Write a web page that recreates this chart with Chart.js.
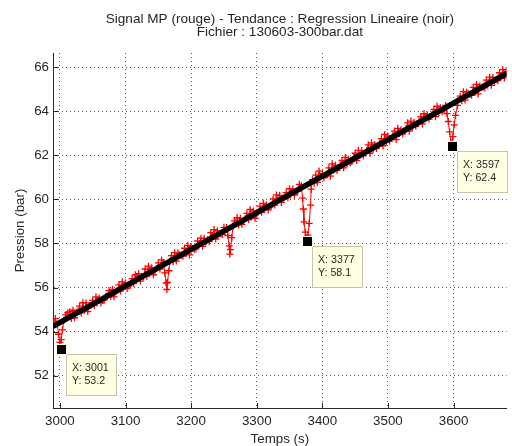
<!DOCTYPE html>
<html><head><meta charset="utf-8">
<script src="https://cdn.jsdelivr.net/npm/chart.js@4.4.1/dist/chart.umd.min.js"></script>
<style>html,body{margin:0;padding:0;background:#fff;overflow:hidden}</style>
</head><body>
<canvas id="c" width="512" height="446" style="display:block;width:512px;height:446px"></canvas>
<script>
const titleLines = ['Signal MP (rouge) - Tendance : Regression Lineaire (noir)', 'Fichier : 130603-300bar.dat'];
const xLabel = 'Temps (s)';
const yLabel = 'Pression (bar)';
const xTickValues = [3000, 3100, 3200, 3300, 3400, 3500, 3600];
const yTickValues = [52, 54, 56, 58, 60, 62, 64, 66];

// main samples of the red signal
const times = [
  2990,2993,2996,2998,3000,3001,3002,3004,3006,3009,
  3012,3015,3020,3025,3030,3035,3040,3045,3050,3055,
  3060,3065,3070,3075,3080,3085,3090,3095,3100,3105,
  3110,3115,3120,3125,3130,3135,3140,3145,3150,3155,
  3158,3160,3162,3163,3164,3166,3168,3170,3175,3180,
  3185,3190,3195,3200,3205,3210,3215,3220,3225,3230,
  3235,3240,3245,3250,3254,3256,3258,3259,3260,3262,
  3264,3266,3270,3275,3280,3285,3290,3295,3300,3305,
  3310,3315,3320,3325,3330,3335,3340,3345,3350,3355,
  3360,3365,3368,3370,3371,3372,3374,3376,3377,3378,
  3380,3382,3383,3385,3390,3395,3400,3405,3410,3415,
  3420,3425,3430,3435,3440,3445,3450,3455,3460,3465,
  3470,3475,3480,3485,3490,3495,3500,3505,3510,3515,
  3520,3525,3530,3535,3540,3545,3550,3555,3560,3565,
  3570,3575,3580,3585,3588,3590,3592,3594,3596,3597,
  3599,3601,3603,3606,3610,3615,3620,3625,3630,3635,
  3640,3645,3650,3655,3660,3665,3670,3675,3680
];
const pressure = [
  54.39,54.59,54.34,53.88,53.51,53.20,53.64,54.08,54.51,54.76,
  54.86,54.90,54.97,54.88,55.16,55.31,55.30,55.18,55.42,55.58,
  55.52,55.41,55.60,55.86,55.92,55.80,56.12,56.26,56.20,56.08,
  56.40,56.58,56.63,56.50,56.84,56.97,56.90,56.78,57.12,57.25,
  57.13,56.66,56.20,55.91,56.23,56.76,57.20,57.45,57.58,57.56,
  57.46,57.78,57.91,57.86,57.74,58.11,58.24,58.23,58.17,58.49,
  58.63,58.57,58.45,58.73,58.72,58.36,57.89,57.51,57.72,58.26,
  58.79,59.02,59.17,59.14,59.03,59.36,59.54,59.47,59.36,59.69,
  59.82,59.75,59.65,60.02,60.20,60.18,60.03,60.30,60.48,60.47,
  60.36,60.68,60.61,60.05,59.56,58.98,58.51,58.24,58.10,58.38,
  58.91,59.74,60.46,60.89,61.10,61.28,61.16,61.10,61.43,61.61,
  61.54,61.43,61.76,61.90,61.82,61.72,62.09,62.22,62.21,62.10,
  62.47,62.56,62.49,62.43,62.75,62.94,62.87,62.76,63.09,63.22,
  63.15,63.10,63.47,63.55,63.48,63.43,63.75,63.88,63.82,63.76,
  64.08,64.22,64.15,64.09,64.26,63.89,63.53,63.06,62.59,62.40,
  62.84,63.38,63.81,64.26,64.68,64.88,64.86,64.76,65.08,65.21,
  65.14,65.09,65.41,65.54,65.53,65.42,65.74,65.88,65.81
];
// intermediate samples of the red signal
const timesMid = [
  3017.5,3022.5,3027.5,3032.5,3037.5,3042.5,3047.5,3052.5,3057.5,3062.5,
  3067.5,3072.5,3077.5,3082.5,3087.5,3092.5,3097.5,3102.5,3107.5,3112.5,
  3117.5,3122.5,3127.5,3132.5,3137.5,3142.5,3147.5,3152.5,
  3172.5,3177.5,3182.5,3187.5,3192.5,3197.5,3202.5,3207.5,3212.5,3217.5,
  3222.5,3227.5,3232.5,3237.5,3242.5,3247.5,
  3272.5,3277.5,3282.5,3287.5,3292.5,3297.5,3302.5,3307.5,3312.5,3317.5,
  3322.5,3327.5,3332.5,3337.5,3342.5,3347.5,3352.5,3357.5,3362.5,
  3387.5,3392.5,3397.5,3402.5,3407.5,3412.5,3417.5,3422.5,3427.5,3432.5,
  3437.5,3442.5,3447.5,3452.5,3457.5,3462.5,3467.5,3472.5,3477.5,3482.5,
  3487.5,3492.5,3497.5,3502.5,3507.5,3512.5,3517.5,3522.5,3527.5,3532.5,
  3537.5,3542.5,3547.5,3552.5,3557.5,3562.5,3567.5,3572.5,3577.5,3582.5,
  3612.5,3617.5,3622.5,3627.5,3632.5,3637.5,3642.5,3647.5,3652.5,3657.5,
  3662.5,3667.5,3672.5,3677.5
];
const pressureMid = [
  54.60,54.63,54.92,54.85,54.98,54.91,55.20,55.18,55.41,55.30,
  55.43,55.61,55.60,55.58,55.86,55.84,56.08,55.96,56.14,56.18,
  56.41,56.29,56.48,56.51,56.74,56.58,56.86,56.84,
  57.17,57.20,57.49,57.42,57.55,57.48,57.77,57.75,57.98,57.87,
  58.05,58.08,58.32,58.20,58.43,58.41,
  58.83,58.86,59.14,59.08,59.21,59.14,59.43,59.41,59.64,59.52,
  59.71,59.74,59.97,59.86,60.09,60.07,60.31,60.19,60.37,
  60.73,60.77,61.05,60.98,61.11,61.05,61.33,61.31,61.55,61.43,
  61.61,61.65,61.88,61.76,62.00,61.98,62.21,62.09,62.28,62.31,
  62.54,62.43,62.61,62.64,62.88,62.71,62.99,62.97,63.21,63.09,
  63.27,63.31,63.54,63.42,63.66,63.64,63.87,63.75,63.94,63.97,
  64.47,64.50,64.79,64.72,64.85,64.78,65.07,65.05,65.28,65.17,
  65.35,65.38,65.62,65.50
];
const trendTimes = [2989.5, 3681];
const trendValues = [54.24, 65.71];
const tipX = [3001, 3377, 3597];
const tipY = [53.2, 58.1, 62.4];

const FONT = "'Liberation Sans', Arial, Helvetica, sans-serif";
const TXT = '#262626';

const signalPoints = times.map((t, i) => ({x: t, y: pressure[i]}))
  .concat(timesMid.map((t, i) => ({x: t, y: pressureMid[i]})))
  .sort((a, b) => a.x - b.x);

const overlay = {
  id: 'overlay',
  afterDraw(chart) {
    const {ctx, chartArea: a, scales: {x, y}} = chart;
    ctx.save();
    ctx.strokeStyle = '#262626'; ctx.lineWidth = 1; ctx.setLineDash([]);
    ctx.beginPath();
    x.ticks.forEach(t => { const px = Math.round(x.getPixelForValue(t.value)) + 0.5; ctx.moveTo(px, a.bottom); ctx.lineTo(px, a.bottom - 5); });
    y.ticks.forEach(t => { const py = Math.round(y.getPixelForValue(t.value)) + 0.5; ctx.moveTo(a.left, py); ctx.lineTo(a.left + 5, py); });
    ctx.stroke();
    tipX.forEach((tx, i) => {
      const px = Math.round(x.getPixelForValue(tx)), py = Math.round(y.getPixelForValue(tipY[i]));
      ctx.fillStyle = '#ffffe1'; ctx.fillRect(px + 5, py + 5, 51, 42);
      ctx.strokeStyle = '#c4c4a8'; ctx.strokeRect(px + 5.5, py + 5.5, 50, 41);
      ctx.fillStyle = '#ffffe1'; ctx.fillRect(px - 5, py - 5, 11, 11);
      ctx.fillStyle = '#000'; ctx.fillRect(px - 4, py - 4, 9, 9);
      ctx.fillStyle = TXT; ctx.font = '10.67px ' + FONT; ctx.textBaseline = 'middle'; ctx.textAlign = 'left';
      ctx.fillText('X: ' + tx, px + 11, py + 19);
      ctx.fillText('Y: ' + tipY[i].toFixed(1), px + 11, py + 32);
    });
    ctx.restore();
  }
};

new Chart(document.getElementById('c'), {
  type: 'line',
  data: {
    datasets: [
      {
        label: 'Regression',
        data: trendTimes.map((t, i) => ({x: t, y: trendValues[i]})),
        borderColor: '#000', backgroundColor: '#000', borderWidth: 5.5,
        pointRadius: 0, tension: 0, order: 0
      },
      {
        label: 'Signal MP',
        data: signalPoints,
        borderColor: '#ff0000', backgroundColor: '#ff0000', borderWidth: 1,
        pointStyle: 'cross', pointRadius: 3.5, pointBorderWidth: 1.3,
        pointBorderColor: '#ff0000', tension: 0, order: 1
      }
    ]
  },
  options: {
    responsive: false, animation: false, devicePixelRatio: 1,
    layout: {padding: 0},
    plugins: {
      legend: {display: false},
      tooltip: {enabled: false},
      title: {
        display: true, fullSize: false, position: 'top', align: 'center',
        text: titleLines, color: TXT,
        font: {family: FONT, size: 13.6, weight: 'normal', lineHeight: 0.95},
        padding: {top: 13, bottom: 14.2}
      }
    },
    scales: {
      x: {
        type: 'linear', min: 2989.5, max: 3681,
        afterBuildTicks: s => { s.ticks = xTickValues.map(v => ({value: v})); },
        afterFit: s => { s.height = 38; },
        ticks: {color: TXT, font: {family: FONT, size: 13.33}, padding: 5, maxRotation: 0, autoSkip: false, callback: v => String(v)},
        grid: {color: 'rgba(30,30,30,0.75)', lineWidth: 1, drawTicks: false},
        border: {display: true, color: '#262626', width: 1, dash: [1, 3]},
        title: {display: true, text: xLabel, color: TXT, font: {family: FONT, size: 13.33, lineHeight: 1}, padding: {top: 0, bottom: 0}}
      },
      y: {
        type: 'linear', min: 50.536, max: 66.634,
        afterBuildTicks: s => { s.ticks = yTickValues.map(v => ({value: v})); },
        afterFit: s => { s.width = 53; },
        ticks: {color: TXT, font: {family: FONT, size: 13.33}, padding: 4, autoSkip: false, callback: v => String(v)},
        grid: {color: 'rgba(30,30,30,0.75)', lineWidth: 1, drawTicks: false},
        border: {display: true, color: '#262626', width: 1, dash: [1, 3]},
        title: {display: true, text: yLabel, color: TXT, font: {family: FONT, size: 13.33, lineHeight: 1.2}, padding: {top: 12, bottom: 0}}
      }
    }
  },
  plugins: [overlay]
});
</script>
</body></html>
